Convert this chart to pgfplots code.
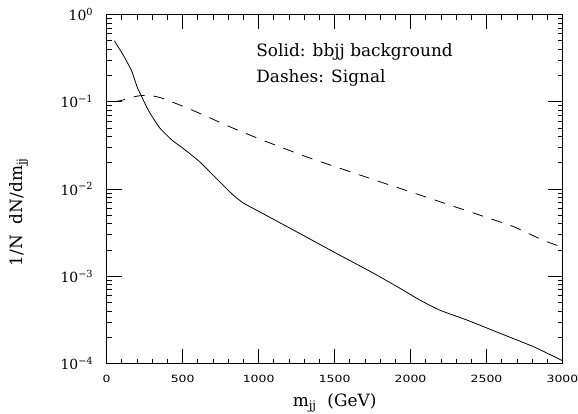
\documentclass[border=0pt]{standalone}
\usepackage{fontspec}
\setmainfont{DejaVu Serif}
\newfontfamily\tsans{DejaVu Sans}
\usepackage{graphicx}
\usepackage{pgfplots}
\pgfplotsset{compat=1.18}

% x tick labels: wide sans digits
\newcommand\xtl[1]{\scalebox{1.25}[1]{\tsans\fontsize{10}{12}\selectfont #1}}

\begin{document}
\begin{tikzpicture}
\begin{axis}[
  scale only axis, width=455.8bp, height=349.1bp,
  xmin=0, xmax=3000, ymode=log, ymin=1e-4, ymax=1,
  xtick={0,500,1000,1500,2000,2500,3000},
  xticklabels={\xtl{0},\xtl{500},\xtl{1000},\xtl{1500},\xtl{2000},\xtl{2500},\xtl{3000}},
  ytick={1e-4,1e-3,1e-2,1e-1,1},
  yticklabels={10\textsuperscript{−4},10\textsuperscript{−3},10\textsuperscript{−2},10\textsuperscript{−1},10\textsuperscript{0}},
  xtick style={draw=none}, ytick style={draw=none},
  xticklabel style={yshift=-8bp},
  yticklabel style={xshift=-10bp, font=\fontsize{14}{16}\selectfont},
  xlabel={m\textsubscript{jj}\ \ (GeV)},
  ylabel={1/N\ \ dN/dm\textsubscript{jj}},
  label style={font=\fontsize{17}{20}\selectfont},
  xlabel style={at={(axis description cs:0.5,-0.1232)}, anchor=base},
  ylabel style={at={(axis description cs:-0.1843,0.434)}, anchor=base},
]
% solid: bbjj background
\addplot[black, line width=0.8bp, smooth, tension=0.3] coordinates {
  (50,0.50) (110,0.34) (165,0.224) (200,0.148) (230,0.115) (255,0.093)
  (285,0.074) (350,0.050) (430,0.0363) (500,0.0295) (610,0.0207)
  (720,0.0133) (830,0.0086) (900,0.0069) (1000,0.00556) (1250,0.00324)
  (1500,0.00188) (1750,0.0011) (1930,0.00073) (2060,0.000536)
  (2190,0.000411) (2370,0.000316) (2590,0.000222) (2810,0.000156)
  (3000,0.000108)};
% dashes: signal
\addplot[black, line width=0.8bp, smooth, tension=0.3, dash pattern=on 11bp off 9bp] coordinates {
  (50,0.100) (100,0.104) (150,0.110) (200,0.116) (270,0.119) (350,0.112)
  (480,0.092) (610,0.074) (830,0.050) (1050,0.035) (1315,0.0234) (1535,0.0173)
  (1800,0.0121) (2130,0.0078) (2460,0.0050) (2680,0.0037) (2870,0.0026)
  (3000,0.00215)};
% ticks on all four sides, pointing inward (5bp minor, 15bp major)
\pgfplotsinvokeforeach{100,200,...,2900}{
  \draw[black, line width=0.8bp] (axis cs:#1,1e-4) -- (axis cs:#1,1.141e-4);
  \draw[black, line width=0.8bp] (axis cs:#1,1) -- (axis cs:#1,0.8762);
}
\pgfplotsinvokeforeach{500,1000,1500,2000,2500}{
  \draw[black, line width=0.8bp] (axis cs:#1,1e-4) -- (axis cs:#1,1.485e-4);
  \draw[black, line width=0.8bp] (axis cs:#1,1) -- (axis cs:#1,0.6733);
}
\pgfplotsinvokeforeach{2e-4,3e-4,4e-4,5e-4,6e-4,7e-4,8e-4,9e-4,
  2e-3,3e-3,4e-3,5e-3,6e-3,7e-3,8e-3,9e-3,
  2e-2,3e-2,4e-2,5e-2,6e-2,7e-2,8e-2,9e-2,
  2e-1,3e-1,4e-1,5e-1,6e-1,7e-1,8e-1,9e-1}{
  \draw[black, line width=0.8bp] (axis cs:0,#1) -- (axis cs:32.9,#1);
  \draw[black, line width=0.8bp] (axis cs:3000,#1) -- (axis cs:2967.1,#1);
}
\pgfplotsinvokeforeach{1e-3,1e-2,1e-1}{
  \draw[black, line width=0.8bp] (axis cs:0,#1) -- (axis cs:98.7,#1);
  \draw[black, line width=0.8bp] (axis cs:3000,#1) -- (axis cs:2901.3,#1);
}
\node[anchor=base west, font=\fontsize{17}{20}\selectfont] at (axis cs:962,0.328) {Solid: bbjj background};
\node[anchor=base west, font=\fontsize{17}{20}\selectfont] at (axis cs:962,0.165) {Dashes: Signal};
\end{axis}
\pgfresetboundingbox
\path[use as bounding box] (-106.7bp,-49.5bp) rectangle (471.3bp,363.6bp);
\end{tikzpicture}
\end{document}
